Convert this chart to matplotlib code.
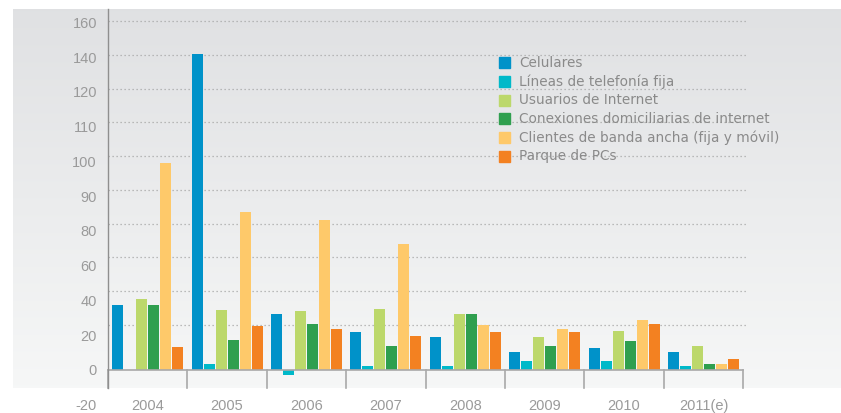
import matplotlib.pyplot as plt
from matplotlib.patches import Rectangle
import numpy as np

# data (linear units of the plotted bars)
years = ['2004', '2005', '2006', '2007', '2008', '2009', '2010', '2011(e)']
celulares = [28.9, 140.6, 25.0, 17.0, 14.8, 8.1, 9.9, 8.1]
lineas = [0.0, 2.8, -2.1, 1.9, 1.9, 4.1, 4.1, 1.9]
usuarios = [31.6, 26.8, 26.4, 27.2, 25.0, 14.8, 17.5, 10.8]
conexiones = [28.9, 13.5, 20.6, 10.8, 25.0, 10.8, 13.0, 2.8]
clientes = [92.0, 70.4, 66.8, 56.1, 20.1, 18.4, 22.4, 2.8]
pcs = [10.2, 19.7, 18.4, 15.2, 17.0, 17.0, 20.6, 5.0]

series_names = ['Celulares', 'Líneas de telefonía fija', 'Usuarios de Internet',
                'Conexiones domiciliarias de internet',
                'Clientes de banda ancha (fija y móvil)', 'Parque de PCs']
series = [celulares, lineas, usuarios, conexiones, clientes, pcs]
colors = ['#0092c9', '#00b9c9', '#bcd86b', '#2f9f4f', '#fec96a', '#f38121']

ytick_labels = ['160', '140', '120', '110', '100', '90', '80', '60', '40', '20', '0', '-20']

W, H = 841, 413
TXT = '#9a9a9a'
NARROW = ['Liberation Sans Narrow', 'Liberation Sans', 'DejaVu Sans']


def fx(px):
    return px / W


def fy(py):
    return 1 - py / H


fig = plt.figure(figsize=(W / 100, H / 100), dpi=100)

# gray gradient panel
bg = fig.add_axes([fx(13), fy(388), fx(841 - 13), (388 - 9) / H], zorder=0)
grad = np.linspace(0, 1, 256).reshape(-1, 1)
top = np.array([0.878, 0.882, 0.890])
bot = np.array([0.965, 0.969, 0.969])
img = top[None, None, :] * (1 - grad[:, :, None]) + bot[None, None, :] * grad[:, :, None]
bg.imshow(img, aspect='auto', extent=[0, 1, 0, 1])
bg.axis('off')

# main axes: x from 108px to 748px, y from 388px to 9px
ax = fig.add_axes([fx(108), fy(388), fx(748 - 108), (388 - 9) / H], zorder=1)
ax.patch.set_alpha(0)
ax.set_xlim(0, 640 / 79.4)
ax.set_ylim(-8, 160.4)
for s in ax.spines.values():
    s.set_visible(False)
ax.set_xticks([])
ax.set_yticks([])

# dotted gridlines
for g in np.arange(20, 156, 15):
    ax.axhline(g, color='#a8a8a8', lw=0.9, ls=(0, (1, 2.2)), zorder=1)

# bars
n = len(years)
x = np.arange(n) + 0.5
pitch = 0.151
width = 0.1385
for j, (vals, c) in enumerate(zip(series, colors)):
    ax.bar(x + (j - 2.5) * pitch, vals, width=width, color=c, zorder=3)

# baseline and group separators
ax.plot([0, n], [0, 0], color='#a9a9a9', lw=1.2, zorder=4, clip_on=False)
for i in range(n + 1):
    ax.plot([i, i], [0, -8], color='#a9a9a9', lw=1.2, zorder=4, clip_on=False)
ax.plot([0, 0], [-8, 160.4], color='#8f8f8f', lw=1.0, zorder=4, clip_on=False)

# y labels (uniform positions as in the original)
for lab, yv in zip(ytick_labels, np.linspace(153.8, -16, len(ytick_labels))):
    ax.text(-0.14, yv, lab, ha='right', va='center', fontsize=10.5,
            color=TXT, family=NARROW, clip_on=False)

# year labels
for xi, yr in zip(x, years):
    ax.text(xi, -16, yr, ha='center', va='center', fontsize=10.5,
            color=TXT, family=NARROW, clip_on=False)

# legend
for k, (name, c) in enumerate(zip(series_names, colors)):
    cy = 62.7 + k * 18.7
    fig.patches.append(Rectangle((fx(499), fy(cy + 5.5)), fx(11), 11 / H,
                                 transform=fig.transFigure, color=c, zorder=5))
    fig.text(fx(519), fy(cy), name, ha='left', va='center', fontsize=9.8,
             color='#8a8a8a', zorder=5)

fig.savefig('out.png', dpi=100)
